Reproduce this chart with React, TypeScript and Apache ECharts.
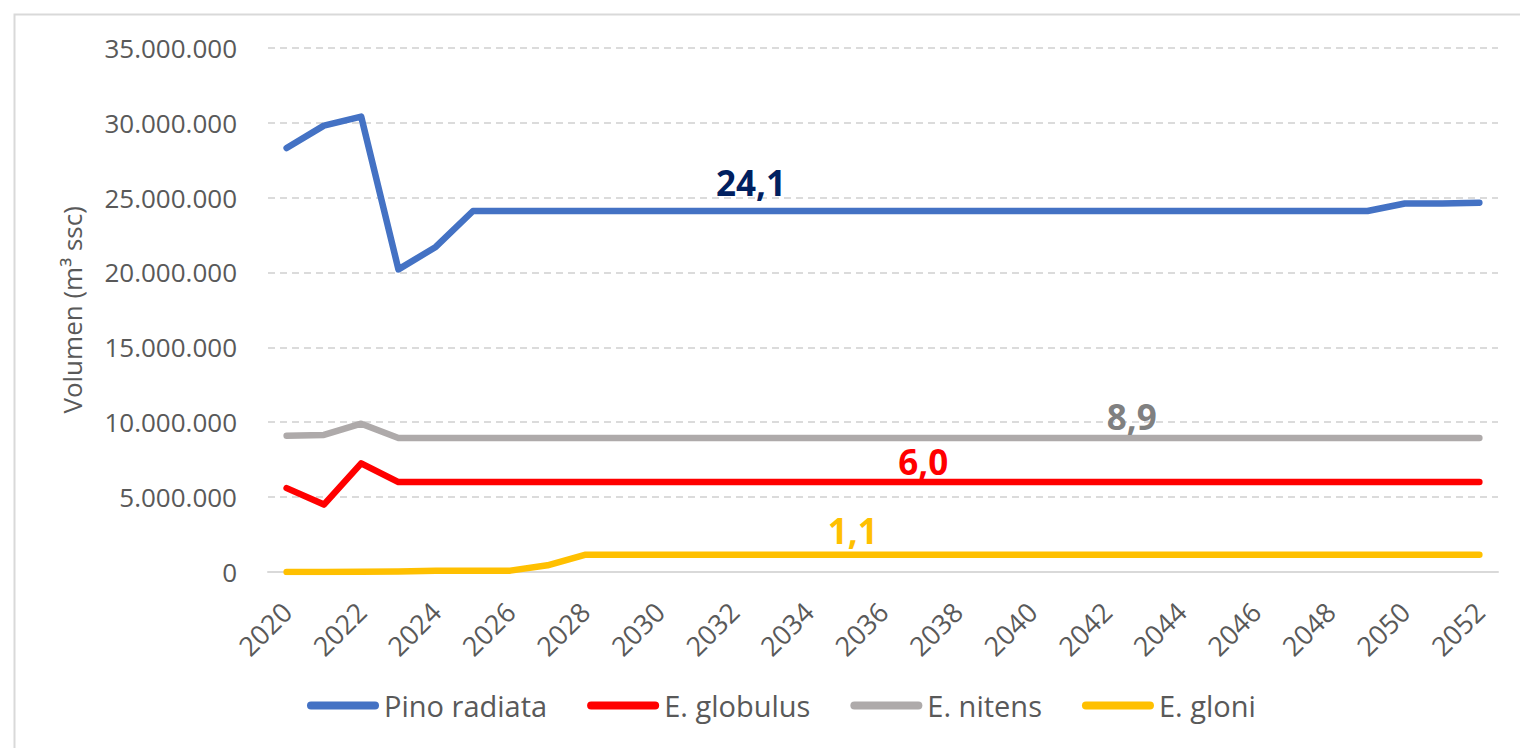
import React, { useEffect, useRef } from "react";
import * as echarts from "echarts";

const years: string[] = [];
for (let y = 2020; y <= 2052; y++) years.push(String(y));

// values in millions of m³ ssc
const pinoRadiata = [
  28.3, 29.8, 30.4, 20.2, 21.7, 24.1, 24.1, 24.1, 24.1, 24.1, 24.1, 24.1, 24.1,
  24.1, 24.1, 24.1, 24.1, 24.1, 24.1, 24.1, 24.1, 24.1, 24.1, 24.1, 24.1, 24.1,
  24.1, 24.1, 24.1, 24.1, 24.6, 24.6, 24.65,
];
const eGlobulus = [
  5.6, 4.5, 7.25, 6.0, 6.0, 6.0, 6.0, 6.0, 6.0, 6.0, 6.0, 6.0, 6.0, 6.0, 6.0,
  6.0, 6.0, 6.0, 6.0, 6.0, 6.0, 6.0, 6.0, 6.0, 6.0, 6.0, 6.0, 6.0, 6.0, 6.0,
  6.0, 6.0, 6.0,
];
const eNitens = [
  9.1, 9.15, 9.9, 8.95, 8.95, 8.95, 8.95, 8.95, 8.95, 8.95, 8.95, 8.95, 8.95,
  8.95, 8.95, 8.95, 8.95, 8.95, 8.95, 8.95, 8.95, 8.95, 8.95, 8.95, 8.95, 8.95,
  8.95, 8.95, 8.95, 8.95, 8.95, 8.95, 8.95,
];
const eGloni = [
  0, 0, 0.01, 0.04, 0.08, 0.09, 0.09, 0.45, 1.15, 1.15, 1.15, 1.15, 1.15, 1.15,
  1.15, 1.15, 1.15, 1.15, 1.15, 1.15, 1.15, 1.15, 1.15, 1.15, 1.15, 1.15, 1.15,
  1.15, 1.15, 1.15, 1.15, 1.15, 1.15,
];

const seriesNames = ["Pino radiata", "E. globulus", "E. nitens", "E. gloni"];
const seriesValues = [pinoRadiata, eGlobulus, eNitens, eGloni];
const seriesColors = ["#4472C4", "#FF0000", "#AEAAAA", "#FFC000"];
const labelTexts = ["24,1", "6,0", "8,9", "1,1"];
const labelYears = ["2032", "2037", "2042", "2035"];
const labelColors = ["#002060", "#FF0000", "#808080", "#FFC000"];
const labelOffsets: [number, number][] = [
  [17, -28],
  [3, -21],
  [25, -21],
  [7, -24],
];

const yTicks = [0, 5, 10, 15, 20, 25, 30, 35];

const FONT = "'Open Sans', sans-serif";
const LEGEND_ICON = "path://M4,0 L68,0 A4,4 0 0 1 68,8 L4,8 A4,4 0 0 1 4,0 Z";

function fmtThousands(v: number): string {
  return String(Math.round(v)).replace(/\B(?=(\d{3})+(?!\d))/g, ".");
}

export default function App() {
  const ref = useRef<HTMLDivElement>(null);
  useEffect(() => {
    if (!ref.current) return;
    const chart = echarts.init(ref.current, undefined, { renderer: "svg" });
    const series = seriesNames.map((name, si) => {
      const li = years.indexOf(labelYears[si]);
      return {
        name,
        type: "line",
        symbol: "none",
        lineStyle: {
          color: seriesColors[si],
          width: 6.5,
          cap: "round",
          join: "round",
        },
        itemStyle: { color: seriesColors[si] },
        data: seriesValues[si].map((v) => v * 1e6),
        markPoint: {
          silent: true,
          symbol: "circle",
          symbolSize: 0,
          data: [
            {
              coord: [li, seriesValues[si][li] * 1e6],
              label: {
                show: true,
                position: "inside",
                formatter: labelTexts[si],
                offset: labelOffsets[si],
                color: labelColors[si],
                fontFamily: FONT,
                fontWeight: "bold",
                fontSize: 35,
              },
            },
          ],
        },
        z: 2 + si,
      };
    });
    chart.setOption({
      animation: false,
      backgroundColor: "#ffffff",
      textStyle: { fontFamily: FONT },
      graphic: [
        {
          type: "rect",
          left: 12,
          top: 12,
          shape: { width: 1530, height: 760 },
          style: { fill: "none", stroke: "#D9D9D9", lineWidth: 2 },
          silent: true,
          z: 0,
        },
      ],
      grid: { left: 268, right: 22, top: 47.7, bottom: 176 },
      legend: {
        data: seriesNames.map((n, i) => ({
          name: n,
          icon: LEGEND_ICON,
          itemStyle: { color: seriesColors[i] },
        })),
        left: 307,
        top: 691,
        padding: 0,
        itemWidth: 72,
        itemHeight: 8,
        itemGap: 40,
        textStyle: { fontFamily: FONT, fontSize: 29, color: "#595959" },
      },
      xAxis: {
        type: "category",
        data: years,
        boundaryGap: true,
        axisLine: { lineStyle: { color: "#D9D9D9", width: 2 } },
        axisTick: { show: false },
        axisLabel: {
          interval: 1,
          rotate: 45,
          margin: 35,
          fontFamily: FONT,
          fontSize: 27,
          color: "#595959",
        },
      },
      yAxis: {
        type: "value",
        min: yTicks[0] * 1e6,
        max: yTicks[yTicks.length - 1] * 1e6,
        interval: 5e6,
        name: "Volumen (m³ ssc)",
        nameLocation: "middle",
        nameGap: 183,
        nameTextStyle: { fontFamily: FONT, fontSize: 26, color: "#595959" },
        axisLine: { show: false },
        axisTick: { show: false },
        axisLabel: {
          margin: 31,
          fontFamily: FONT,
          fontSize: 26,
          color: "#595959",
          formatter: (v: number) => fmtThousands(v),
        },
        splitLine: {
          lineStyle: { color: "#CFCFCF", width: 1.5, type: [7, 5] },
        },
      },
      series,
    });
    return () => chart.dispose();
  }, []);
  return (
    <div
      ref={ref}
      style={{ position: "fixed", left: 0, top: 0, width: 1520, height: 748 }}
    />
  );
}
